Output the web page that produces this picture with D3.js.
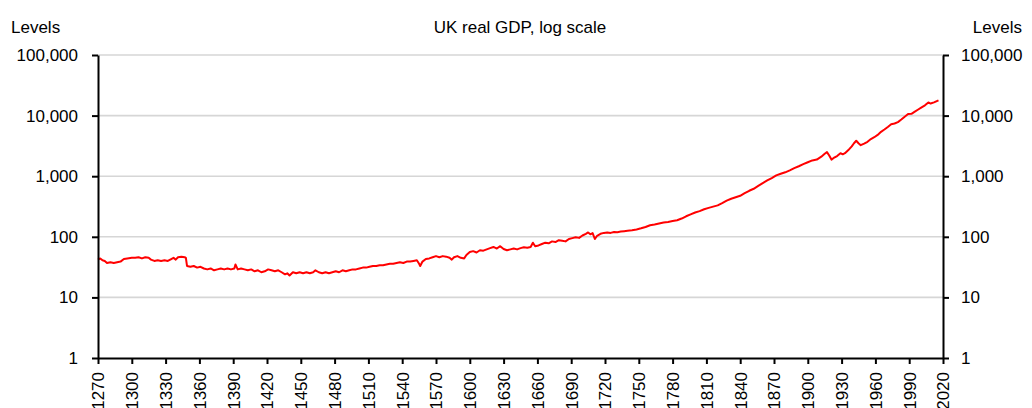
<!DOCTYPE html>
<html>
<head>
<meta charset="utf-8">
<script src="https://cdn.jsdelivr.net/npm/d3@7"></script>
<style>
  body { margin: 0; background: #fff; }
  #chart { width: 1032px; height: 408px; }
  text { font-family: "Liberation Sans", Arial, sans-serif; fill: #000; }
</style>
</head>
<body>
<div id="chart"></div>
<script>
// UK real GDP (index level, log scale)
const years = [
  1270, 1272, 1274, 1276, 1278, 1281, 1284, 1287, 1290, 1293, 1296, 1300, 1303, 1306, 1309, 1312, 1315, 1317, 1320, 1323,
  1326, 1329, 1332, 1335, 1337, 1339, 1341, 1344, 1347, 1348, 1349, 1352, 1355, 1358, 1361, 1364, 1367, 1370, 1373, 1376,
  1379, 1382, 1385, 1388, 1391, 1392, 1394, 1397, 1400, 1403, 1406, 1409, 1412, 1415, 1418, 1421, 1424, 1427, 1430, 1433,
  1436, 1438, 1440, 1443, 1446, 1449, 1452, 1455, 1458, 1461, 1463, 1466, 1469, 1472, 1475, 1478, 1481, 1484, 1487, 1490,
  1493, 1496, 1499, 1502, 1505, 1508, 1511, 1514, 1517, 1520, 1523, 1526, 1529, 1532, 1535, 1538, 1541, 1544, 1547, 1550,
  1553, 1555, 1556, 1558, 1561, 1564, 1567, 1570, 1573, 1576, 1579, 1582, 1584, 1586, 1589, 1592, 1595, 1597, 1600, 1603,
  1606, 1609, 1612, 1615, 1618, 1621, 1624, 1627, 1630, 1633, 1636, 1639, 1642, 1645, 1648, 1651, 1654, 1656, 1658, 1661,
  1664, 1667, 1670, 1673, 1676, 1679, 1682, 1685, 1688, 1691, 1694, 1697, 1700, 1703, 1705, 1707, 1709, 1711, 1713, 1716,
  1719, 1722, 1725, 1728, 1731, 1734, 1737, 1740, 1744, 1748, 1752, 1756, 1760, 1764, 1768, 1772, 1776, 1780, 1784, 1788,
  1792, 1796, 1800, 1804, 1808, 1812, 1816, 1820, 1824, 1828, 1832, 1836, 1840, 1844, 1848, 1852, 1856, 1860, 1864, 1868,
  1872, 1876, 1880, 1884, 1888, 1892, 1896, 1900, 1904, 1908, 1912, 1915, 1917, 1919, 1921, 1923, 1926, 1929, 1931, 1933,
  1936, 1939, 1941, 1943, 1945, 1947, 1950, 1953, 1956, 1959, 1962, 1965, 1968, 1971, 1974, 1977, 1980, 1983, 1986, 1989,
  1992, 1995, 1998, 2001, 2004, 2007, 2009, 2012, 2016
];
const gdp = [
  42, 44, 41, 40, 37, 38, 37, 38, 39, 43, 44, 45, 45, 46, 44, 46, 45, 42, 40, 41,
  40, 41, 40, 43, 45, 42, 46, 47, 46, 45, 33, 32, 33, 31, 32, 30, 29, 30, 28, 29,
  30, 29, 30, 29, 30, 35, 29, 30, 29, 28, 29, 27, 28, 26, 27, 29, 28, 27, 28, 26,
  24, 25, 23, 26, 25, 26, 25, 26, 25, 26, 28, 26, 25, 26, 25, 26, 27, 26, 28, 27,
  28, 29, 29, 30, 31, 31, 32, 33, 33, 34, 34, 35, 36, 36, 37, 38, 37, 39, 39, 40,
  41, 36, 33, 39, 43, 44, 46, 48, 46, 48, 47, 45, 42, 46, 48, 45, 44, 50, 56, 58,
  55, 60, 59, 62, 65, 68, 64, 70, 63, 60, 62, 64, 62, 65, 67, 66, 68, 80, 70, 72,
  76, 80, 78, 84, 82, 88, 86, 84, 92, 95, 98, 96, 105, 112, 118, 110, 115, 92, 104, 112,
  116, 118, 116, 120, 119, 122, 124, 126, 128, 132, 138, 145, 155, 160, 166, 172, 176, 182, 188, 200,
  218, 235, 252, 265, 285, 300, 315, 330, 360, 395, 425, 450, 475, 525, 575, 620, 690, 770, 850, 930,
  1030, 1100, 1160, 1250, 1360, 1460, 1580, 1700, 1820, 1880, 2100, 2350, 2500, 2200, 1880, 2000, 2150, 2400, 2300, 2400,
  2700, 3100, 3500, 3850, 3500, 3250, 3450, 3700, 4100, 4400, 4800, 5400, 5900, 6500, 7200, 7400, 7800, 8600, 9600, 10600,
  10700, 11600, 12600, 13700, 14800, 16500, 15800, 16500, 17800
];
const yTicks = [1, 10, 100, 1000, 10000, 100000];
const xTicks = d3.range(1270, 2021, 30);
const chartTitle = "UK real GDP, log scale";
const axisTitle = "Levels";

const container = d3.select("#chart");
const width = 1032;
const height = 408;
const margin = { top: 55, right: 89, bottom: 50, left: 98 };
const fontSize = "17px";

const svg = container.append("svg")
    .attr("width", width)
    .attr("height", height);

const x = d3.scaleLinear()
    .domain([1270, 2020])
    .range([margin.left, width - margin.right]);

const y = d3.scaleLog()
    .domain([1, 100000])
    .range([height - margin.bottom, margin.top]);

const fmt = d3.format(",");

// --- gridlines ---
svg.append("g")
    .selectAll("line")
    .data(yTicks.filter(d => d > 1))
    .join("line")
    .attr("x1", margin.left)
    .attr("x2", width - margin.right)
    .attr("y1", d => y(d))
    .attr("y2", d => y(d))
    .attr("stroke", "#d6d6d6")
    .attr("stroke-width", 1.6);

// --- series ---
const series = years.map((yr, i) => ({ year: yr, value: gdp[i] }));
svg.append("path")
    .datum(series)
    .attr("fill", "none")
    .attr("stroke", "#ff0000")
    .attr("stroke-width", 2)
    .attr("stroke-linejoin", "round")
    .attr("d", d3.line().x(d => x(d.year)).y(d => y(d.value)));

// --- axes ---
const styleAxis = g => {
    g.selectAll(".domain").attr("stroke", "#000").attr("stroke-width", 2);
    g.selectAll(".tick line").attr("stroke", "#000").attr("stroke-width", 2);
    g.selectAll(".tick text").style("font-size", fontSize).attr("fill", "#000");
};

svg.append("g")
    .attr("transform", `translate(${margin.left},0)`)
    .call(d3.axisLeft(y).tickValues(yTicks).tickFormat(fmt).tickSize(6).tickSizeOuter(0).tickPadding(14))
    .call(styleAxis);

svg.append("g")
    .attr("transform", `translate(${width - margin.right},0)`)
    .call(d3.axisRight(y).tickValues(yTicks).tickFormat(fmt).tickSize(6).tickSizeOuter(0).tickPadding(12))
    .call(styleAxis);

const xAxis = svg.append("g")
    .attr("transform", `translate(0,${height - margin.bottom})`)
    .call(d3.axisBottom(x).tickValues(xTicks).tickFormat(d3.format("d")).tickSize(6).tickSizeOuter(0))
    .call(styleAxis);

xAxis.selectAll(".tick text")
    .attr("transform", "rotate(-90)")
    .attr("text-anchor", "end")
    .attr("x", -14)
    .attr("y", 0)
    .attr("dy", "0.35em");

// --- titles ---
svg.append("text")
    .attr("x", 11)
    .attr("y", 33)
    .style("font-size", fontSize)
    .text(axisTitle);

svg.append("text")
    .attr("x", width - 10)
    .attr("y", 33)
    .attr("text-anchor", "end")
    .style("font-size", fontSize)
    .text(axisTitle);

svg.append("text")
    .attr("x", 520)
    .attr("y", 33)
    .attr("text-anchor", "middle")
    .style("font-size", fontSize)
    .text(chartTitle);
</script>
</body>
</html>
